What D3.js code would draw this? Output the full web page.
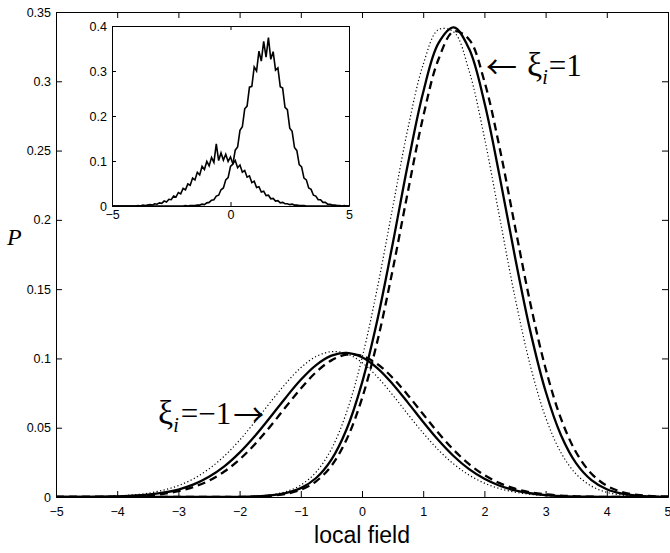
<!DOCTYPE html>
<html>
<head>
<meta charset="utf-8">
<script src="https://cdn.jsdelivr.net/npm/d3@7"></script>
<style>
body { margin: 0; background: #fff; }
text { fill: #000; }
</style>
</head>
<body>
<div id="chart"></div>
<script>
// main panel: x positions of the sampled curves (local field), step 0.25
var xGrid = d3.range(-5, 5.001, 0.25);

// xi = 1 curves
var solidPos = [0,0,0,0,0,0,0,0,0,0,0,0,
  0.0001,0.0004,0.0011,0.0028,0.0064,0.0137,0.0270,0.0491,0.0824,0.1276,0.1824,0.2403,0.2921,0.3276,0.3389,
  0.3234,0.2847,0.2312,0.1732,0.1197,0.0763,0.0448,0.0243,0.0122,0.0056,0.0024,0.0009,0.0003,0.0001];
var dashPos = [0,0,0,0,0,0,0,0,0,0,0,0,0,
  0.0003,0.0009,0.0022,0.0052,0.0113,0.0225,0.0417,0.0711,0.1122,0.1636,0.2204,0.2745,0.3159,0.3360,
  0.3302,0.2999,0.2517,0.1952,0.1399,0.0927,0.0567,0.0321,0.0168,0.0081,0.0036,0.0015,0.0006,0.0002];
var dotPos = [0,0,0,0,0,0,0,0,0,0,0,0,
  0.0002,0.0006,0.0015,0.0038,0.0086,0.0180,0.0346,0.0614,0.1002,0.1507,0.2086,0.2659,0.3121,0.3373,0.3356,
  0.3075,0.2594,0.2015,0.1441,0.0949,0.0575,0.0321,0.0165,0.0078,0.0034,0.0014,0.0005,0.0002,0.0001];

// xi = -1 curves
var solidNeg = [0,0,0.0001,0.0002,0.0004,0.0009,0.0017,0.0031,0.0054,0.0091,0.0146,0.0221,0.0320,0.0440,
  0.0575,0.0715,0.0846,0.0952,0.1020,0.1040,0.1008,0.0930,0.0816,0.0681,0.0541,0.0409,0.0294,0.0201,
  0.0131,0.0081,0.0048,0.0027,0.0014,0.0007,0.0003,0.0002,0.0001,0,0,0,0];
var dashNeg = [0,0,0.0001,0.0001,0.0003,0.0006,0.0012,0.0023,0.0042,0.0073,0.0118,0.0184,0.0271,0.0381,
  0.0509,0.0647,0.0783,0.0901,0.0986,0.1027,0.1018,0.0960,0.0861,0.0735,0.0597,0.0461,0.0339,0.0237,
  0.0158,0.0100,0.0060,0.0034,0.0019,0.0010,0.0005,0.0002,0.0001,0,0,0,0];
var dotNeg = [0,0.0001,0.0002,0.0004,0.0008,0.0015,0.0027,0.0049,0.0082,0.0132,0.0203,0.0295,0.0410,0.0542,
  0.0682,0.0817,0.0933,0.1014,0.1049,0.1034,0.0970,0.0867,0.0737,0.0597,0.0461,0.0339,0.0237,0.0158,
  0.0100,0.0060,0.0035,0.0019,0.0010,0.0005,0.0002,0.0001,0,0,0,0,0];

// inset: simulated histograms, bins of 0.1
var insetBins = d3.range(-5, 5.001, 0.1);
var histPos = [0,0,0,0,0,0,0,0,0,0, 0,0,0,0,0,0,0,0,0,0, 0,0,0,0,0,0,0,0,0,0,
  0.000,0.001,0.000,0.001,0.001,0.001,0.002,0.002,0.004,0.003,
  0.007,0.008,0.013,0.014,0.022,0.024,0.036,0.040,0.058,0.063,
  0.088,0.093,0.124,0.131,0.168,0.176,0.216,0.222,0.264,0.266,
  0.309,0.300,0.344,0.322,0.366,0.331,0.374,0.326,0.343,0.302,
  0.307,0.265,0.262,0.219,0.214,0.173,0.166,0.130,0.123,0.092,
  0.087,0.062,0.058,0.040,0.037,0.024,0.022,0.014,0.014,0.008,
  0.008,0.004,0.004,0.002,0.002,0.001,0.001,0.000,0.001,0.000,
  0.000];
var histNeg = [0,0,0,0,0,0,0,0,0,0,0,
  0.001,0.000,0.002,0.001,0.002,0.003,0.002,0.005,0.004,0.007,
  0.006,0.011,0.009,0.015,0.014,0.022,0.020,0.030,0.027,0.039,
  0.036,0.049,0.046,0.062,0.058,0.075,0.069,0.088,0.081,0.099,
  0.089,0.108,0.097,0.138,0.101,0.118,0.102,0.115,0.099,0.109,
  0.094,0.101,0.085,0.091,0.075,0.079,0.064,0.067,0.052,0.055,
  0.041,0.043,0.031,0.033,0.023,0.024,0.016,0.017,0.011,0.012,
  0.007,0.008,0.005,0.005,0.003,0.004,0.002,0.002,0.001,0.001,
  0.001,0.000,
  0,0,0,0,0,0,0,0,0,0,0,0,0,0,0,0,0,0];

var xTicks = [-5,-4,-3,-2,-1,0,1,2,3,4,5];
var yTicks = [0,0.05,0.1,0.15,0.2,0.25,0.3,0.35];
var insetXTicks = [-5,0,5];
var insetYTicks = [0,0.1,0.2,0.3,0.4];

var width = 670, height = 553;
var tickFont = "'Liberation Sans', Arial, sans-serif";
var serif = "'Liberation Serif', 'Times New Roman', serif";
var arrowFont = "'Noto Sans CJK JP', 'DejaVu Sans', sans-serif";

var svg = d3.select("#chart").append("svg")
    .attr("width", width)
    .attr("height", height);

var x = d3.scaleLinear().domain([-5, 5]).range([56, 668]);
var y = d3.scaleLinear().domain([0, 0.35]).range([497, 12]);

svg.append("defs").append("clipPath").attr("id", "clip")
  .append("rect").attr("x", 56).attr("y", 12).attr("width", 612).attr("height", 485);

var fmt = d3.format("~g");

// axes (ticks pointing inward, box on all four sides)
var gx = svg.append("g").attr("transform", "translate(0,497)")
    .call(d3.axisBottom(x).tickValues(xTicks).tickFormat(d3.format("d")).tickSizeInner(-6).tickSizeOuter(0).tickPadding(10));
var gy = svg.append("g").attr("transform", "translate(56,0)")
    .call(d3.axisLeft(y).tickValues(yTicks).tickFormat(fmt).tickSizeInner(-6).tickSizeOuter(0).tickPadding(5));
var gt = svg.append("g").attr("transform", "translate(0,12)")
    .call(d3.axisTop(x).tickValues(xTicks).tickFormat("").tickSizeInner(-6).tickSizeOuter(0));
var gr = svg.append("g").attr("transform", "translate(668,0)")
    .call(d3.axisRight(y).tickValues(yTicks).tickFormat("").tickSizeInner(-6).tickSizeOuter(0));

[gx, gy, gt, gr].forEach(function(g){
    g.selectAll("text").style("font-family", tickFont).style("font-size", "12.5px");
    g.selectAll("path, line").attr("stroke", "#000").attr("stroke-width", 1);
});
// last x label sits on the window edge: keep it inside
gx.selectAll(".tick text").filter(function(d){ return d === 5; })
    .attr("text-anchor", "end").attr("dx", 3);

// curves
var line = d3.line()
    .x(function(d, i){ return x(xGrid[i]); })
    .y(function(d){ return y(d); })
    .curve(d3.curveCatmullRom);

var curves = svg.append("g").attr("clip-path", "url(#clip)");

var styles = [
    {data: dotPos, w: 1.2, dash: "1.2,2.4"},
    {data: dotNeg, w: 1.2, dash: "1.2,2.4"},
    {data: dashPos, w: 2.3, dash: "8,5"},
    {data: dashNeg, w: 2.3, dash: "8,5"},
    {data: solidPos, w: 2.3, dash: null},
    {data: solidNeg, w: 2.3, dash: null}
];

styles.forEach(function(s){
    curves.append("path")
        .datum(s.data)
        .attr("d", line)
        .attr("fill", "none")
        .attr("stroke", "#000")
        .attr("stroke-width", s.w)
        .attr("stroke-dasharray", s.dash);
});

// axis labels
svg.append("text")
    .attr("x", 362).attr("y", 543)
    .attr("text-anchor", "middle")
    .style("font-family", tickFont)
    .style("font-size", "23px")
    .text("local field");

svg.append("text")
    .attr("x", 7).attr("y", 245)
    .style("font-family", serif)
    .style("font-style", "italic")
    .style("font-size", "24px")
    .text("P");

// annotations
var a1 = svg.append("text")
    .attr("x", 486).attr("y", 76)
    .style("font-family", serif)
    .style("font-size", "31px");
a1.append("tspan").attr("dy", 2).style("font-family", arrowFont).style("font-size", "31px").text("\u2190");
a1.append("tspan").attr("dx", 10).attr("dy", -2).style("font-size", "34px").text("\u03be");
a1.append("tspan").attr("dy", 8).style("font-style", "italic").style("font-size", "20px").text("i");
a1.append("tspan").attr("dy", -8).attr("dx", 1).text("=1");

var a2 = svg.append("text")
    .attr("x", 158).attr("y", 424)
    .style("font-family", serif)
    .style("font-size", "31px");
a2.append("tspan").style("font-size", "34px").text("\u03be");
a2.append("tspan").attr("dy", 8).style("font-style", "italic").style("font-size", "20px").text("i");
a2.append("tspan").attr("dy", -8).attr("dx", 2).text("=\u22121");
a2.append("tspan").attr("dy", 2).attr("dx", 2).style("font-family", arrowFont).style("font-size", "31px").text("\u2192");

// inset
var xi = d3.scaleLinear().domain([-5, 5]).range([112, 349]);
var yi = d3.scaleLinear().domain([0, 0.4]).range([206, 26]);

svg.append("rect")
    .attr("x", 112).attr("y", 26)
    .attr("width", 237).attr("height", 180)
    .attr("fill", "#fff");

var ix = svg.append("g").attr("transform", "translate(0,206)")
    .call(d3.axisBottom(xi).tickValues(insetXTicks).tickFormat(d3.format("d")).tickSizeInner(-4).tickSizeOuter(0).tickPadding(4));
var iy = svg.append("g").attr("transform", "translate(112,0)")
    .call(d3.axisLeft(yi).tickValues(insetYTicks).tickFormat(fmt).tickSizeInner(-4).tickSizeOuter(0).tickPadding(5));
var it = svg.append("g").attr("transform", "translate(0,26)")
    .call(d3.axisTop(xi).tickValues(insetXTicks).tickFormat("").tickSizeInner(-4).tickSizeOuter(0));
var ir = svg.append("g").attr("transform", "translate(349,0)")
    .call(d3.axisRight(yi).tickValues(insetYTicks).tickFormat("").tickSizeInner(-4).tickSizeOuter(0));

[ix, iy, it, ir].forEach(function(g){
    g.selectAll("text").style("font-family", tickFont).style("font-size", "12.5px");
    g.selectAll("path, line").attr("stroke", "#000").attr("stroke-width", 1);
});

var histLine = d3.line()
    .x(function(d, i){ return xi(insetBins[i]); })
    .y(function(d){ return yi(d); });

[histNeg, histPos].forEach(function(h){
    svg.append("path")
        .datum(h)
        .attr("d", histLine)
        .attr("fill", "none")
        .attr("stroke", "#000")
        .attr("stroke-width", 1.6);
});
</script>
</body>
</html>
